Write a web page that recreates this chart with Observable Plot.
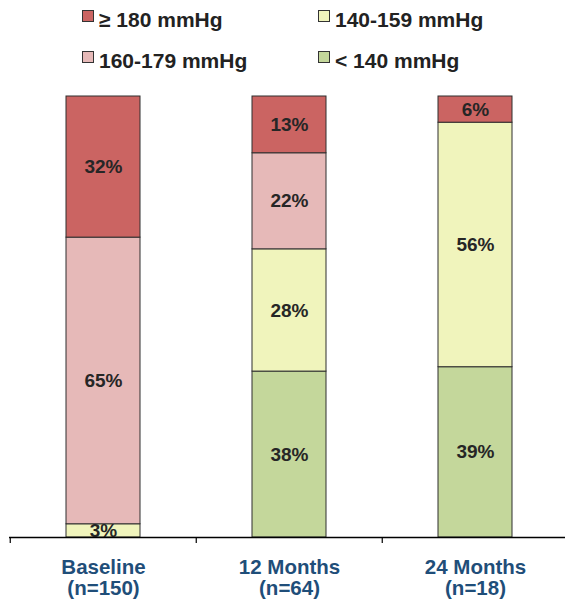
<!DOCTYPE html>
<html>
<head>
<meta charset="utf-8">
<script src="https://cdn.jsdelivr.net/npm/d3@7"></script>
<script src="https://cdn.jsdelivr.net/npm/@observablehq/plot@0.6"></script>
<style>
  html, body { margin: 0; padding: 0; background: #fff; }
  #wrap { width: 565px; }
  #legend { position: relative; width: 565px; height: 80px; font-family: "Liberation Sans", Arial, sans-serif; font-weight: bold; font-size: 21px; color: #222; }
  .item { position: absolute; white-space: nowrap; line-height: 21px; }
  .sw { position: absolute; width: 10px; height: 10px; border: 1px solid #333; }
</style>
</head>
<body>
<div id="wrap">
  <div id="legend"></div>
  <div id="chart"></div>
</div>
<script>
// ---- data ----
const categories = ["Baseline", "12 Months", "24 Months"];
const sampleSizes = ["(n=150)", "(n=64)", "(n=18)"];
const bands = ["< 140 mmHg", "140-159 mmHg", "160-179 mmHg", "≥ 180 mmHg"];
const bandColors = ["#c4d79b", "#f0f4bc", "#e6b9b8", "#cb6462"];
const below140 = [0, 38, 39];
const from140to159 = [3, 28, 56];
const from160to179 = [65, 22, 0];
const above180 = [32, 13, 6];
const legendOrder = ["≥ 180 mmHg", "140-159 mmHg", "160-179 mmHg", "< 140 mmHg"];

const series = [below140, from140to159, from160to179, above180];
const rows = [];
categories.forEach((c, i) => {
  bands.forEach((b, j) => {
    const v = series[j][i];
    if (v > 0) rows.push({category: c, band: b, value: v});
  });
});

// ---- legend (HTML) ----
const legend = document.getElementById("legend");
const legendPos = [
  {sx: 82, sy: 10, tx: 99, ty: 9},
  {sx: 318, sy: 10, tx: 335, ty: 9},
  {sx: 82, sy: 51, tx: 99, ty: 50},
  {sx: 318, sy: 51, tx: 335, ty: 50}
];
legendOrder.forEach((b, k) => {
  const p = legendPos[k];
  const sw = document.createElement("div");
  sw.className = "sw";
  sw.style.left = p.sx + "px";
  sw.style.top = p.sy + "px";
  sw.style.background = bandColors[bands.indexOf(b)];
  legend.appendChild(sw);
  const t = document.createElement("div");
  t.className = "item";
  t.style.left = p.tx + "px";
  t.style.top = p.ty + "px";
  t.textContent = b;
  legend.appendChild(t);
});

// ---- chart ----
const step = (568.5 - 9) / 3;
const stackOpts = {x: "category", y: "value", z: "band", order: bands, offset: "normalize"};

const chart = Plot.plot({
  width: 565,
  height: 520,
  marginTop: 16,
  marginBottom: 63,
  marginLeft: 9,
  marginRight: 0,
  style: {fontFamily: "'Liberation Sans', Arial, sans-serif", background: "#fff"},
  x: {domain: categories, range: [9, 568.5], paddingInner: 0.6, paddingOuter: 0.3, align: 0.5, axis: null},
  y: {domain: [0, 1], axis: null},
  color: {domain: bands, range: bandColors},
  marks: [
    Plot.barY(rows, Plot.stackY({...stackOpts, fill: "band", stroke: "#2e2e2e", strokeWidth: 1})),
    Plot.text(rows, Plot.stackY({...stackOpts, text: d => d.value + "%", fill: "#262626", fontSize: 19, fontWeight: "bold"})),
    Plot.ruleY([0], {stroke: "#000", strokeWidth: 1.5}),
    Plot.axisX({tickSize: 6, dx: -step / 2, tickFormat: () => "", stroke: "#000", strokeWidth: 1.2, label: null}),
    Plot.axisX({
      tickSize: 0,
      tickPadding: 21,
      label: null,
      tickFormat: d => d + "\n" + sampleSizes[categories.indexOf(d)],
      fontSize: 20.5,
      fontWeight: "bold",
      fill: "#1f4e79",
      lineHeight: 1.04
    })
  ]
});
document.getElementById("chart").appendChild(chart);
</script>
</body>
</html>
